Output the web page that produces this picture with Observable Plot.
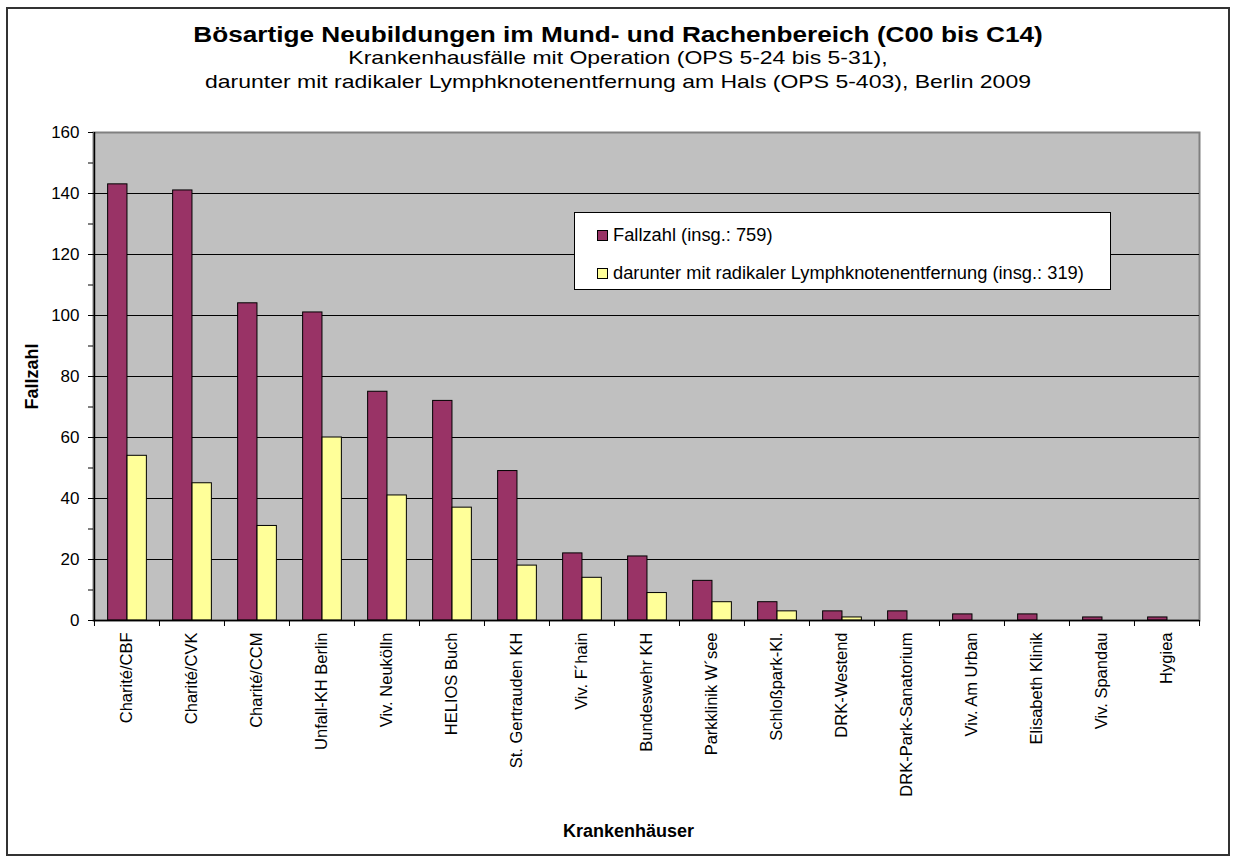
<!DOCTYPE html>
<html><head><meta charset="utf-8">
<script src="https://cdn.jsdelivr.net/npm/d3@7"></script>
<script src="https://cdn.jsdelivr.net/npm/@observablehq/plot@0.6"></script>
<style>
body{margin:0;background:#fff;font-family:Arial,"Liberation Sans",sans-serif;}
#wrap{position:relative;width:1236px;height:862px;overflow:hidden;}
#chart{position:absolute;left:0;top:0;}
#border{position:absolute;left:6px;top:7px;width:1224px;height:849px;border:2px solid #333;box-sizing:border-box;pointer-events:none;}
.t{position:absolute;left:0;width:1236px;text-align:center;color:#000;white-space:nowrap;line-height:1;transform-origin:618px 50%;}
#legend{position:absolute;left:574px;top:212px;width:537px;height:78px;background:#fff;border:1px solid #000;box-sizing:border-box;font-size:18.3px;}
.li{position:absolute;left:22px;display:flex;align-items:center;white-space:nowrap;}
.sw{width:11px;height:11px;border:1px solid #000;box-sizing:border-box;margin-right:5px;}
</style></head><body>
<div id="wrap">
  <div id="chart"></div>
  <div class="t" id="title" style="top:24px;font-weight:bold;font-size:22px;transform:scaleX(1.19)"></div>
  <div class="t" id="sub1" style="top:48px;font-size:19px;transform:scaleX(1.21)"></div>
  <div class="t" id="sub2" style="top:72px;font-size:19px;transform:scaleX(1.21)"></div>
  <div id="legend"></div>
  <div id="border"></div>
</div>
<script>
const titleText = "Bösartige Neubildungen im Mund- und Rachenbereich (C00 bis C14)";
const subtitleLines = [
  "Krankenhausfälle mit Operation (OPS 5-24 bis 5-31),",
  "darunter mit radikaler Lymphknotenentfernung am Hals (OPS 5-403), Berlin 2009"
];
const categories = ["Charité/CBF","Charité/CVK","Charité/CCM","Unfall-KH Berlin","Viv. Neukölln","HELIOS Buch","St. Gertrauden KH","Viv. F´hain","Bundeswehr KH","Parkklinik W´see","Schloßpark-Kl.","DRK-Westend","DRK-Park-Sanatorium","Viv. Am Urban","Elisabeth Klinik","Viv. Spandau","Hygiea"];
const fallzahl = [143,141,104,101,75,72,49,22,21,13,6,3,3,2,2,1,1];
const lymphknoten = [54,45,31,60,41,37,18,14,9,6,3,1,0,0,0,0,0];
const seriesNames = ["Fallzahl (insg.: 759)","darunter mit radikaler Lymphknotenentfernung (insg.: 319)"];
const seriesColors = ["#993366","#FFFF99"];
const yTicks = [0,10,20,30,40,50,60,70,80,90,100,110,120,130,140,150,160];
const yGrid = [20,40,60,80,100,120,140];
const yAxisTitle = "Fallzahl";
const xAxisTitle = "Krankenhäuser";

document.getElementById("title").textContent = titleText;
document.getElementById("sub1").textContent = subtitleLines[0];
document.getElementById("sub2").textContent = subtitleLines[1];

const lg = document.getElementById("legend");
seriesNames.forEach((s,i)=>{
  const d = document.createElement("div");
  d.className="li"; d.style.top = (i===0? 11 : 49) + "px";
  const sw = document.createElement("div"); sw.className="sw"; sw.style.background = seriesColors[i];
  const tx = document.createElement("span"); tx.textContent = s;
  d.appendChild(sw); d.appendChild(tx); lg.appendChild(d);
});

const W = 1236, H = 862, ML = 93, MR = 37, MT = 132, MB = 242;
const bw = (W - ML - MR) / categories.length;
const barW = 19.4;
const off = (bw - 2*barW)/2 + 0.5;

const rowsA = categories.map((c,i)=>({c, v:fallzahl[i]}));
const rowsB = categories.map((c,i)=>({c, v:lymphknoten[i]})).filter(d=>d.v>0);

const font = 'Arial, "Liberation Sans", sans-serif';
const chart = Plot.plot({
  width: W, height: H,
  marginLeft: ML, marginRight: MR, marginTop: MT, marginBottom: MB,
  style: {fontFamily: font, fontSize: "17px", color: "#000", background: "transparent"},
  x: {type: "band", domain: categories, padding: 0, axis: null, label: null},
  y: {domain: [0,160], axis: null, label: null},
  marks: [
    Plot.frame({fill: "#C0C0C0", stroke: "#808080", strokeWidth: 2}),
    Plot.gridY(yGrid, {stroke: "#000", strokeOpacity: 1, strokeWidth: 1}),
    Plot.barY(rowsA, {x: "c", y: "v", fill: seriesColors[0], stroke: "#000", strokeWidth: 1,
      insetLeft: off, insetRight: bw - off - barW}),
    Plot.barY(rowsB, {x: "c", y: "v", fill: seriesColors[1], stroke: "#000", strokeWidth: 1,
      insetLeft: off + barW, insetRight: bw - off - 2*barW}),
    Plot.ruleY([0], {stroke: "#000", strokeWidth: 1.5}),
    Plot.ruleX([categories[0]], {dx: -bw/2, stroke: "#000", strokeWidth: 1.5}),
    Plot.axisY(yTicks, {tickSize: 5, tickPadding: 9, fontSize: 17, stroke: "#000", label: null,
      tickFormat: d => d % 20 === 0 ? String(d) : ""}),
    Plot.axisX({tickSize: 6, tickFormat: () => "", dx: -bw/2, stroke: "#000", label: null}),
    Plot.axisX([categories[categories.length-1]], {tickSize: 6, tickFormat: () => "", dx: bw/2, stroke: "#000", label: null}),
    Plot.axisX({tickSize: 0, tickPadding: 12, tickRotate: -90, fontSize: 16.5, label: null}),
    Plot.text([yAxisTitle], {frameAnchor: "left", textAnchor: "middle", dx: -61, rotate: -90, fontWeight: "bold", fontSize: 18}),
    Plot.text([xAxisTitle], {frameAnchor: "bottom", dx: -18, dy: 216, fontWeight: "bold", fontSize: 18})
  ]
});
document.getElementById("chart").appendChild(chart);
</script>
</body></html>
